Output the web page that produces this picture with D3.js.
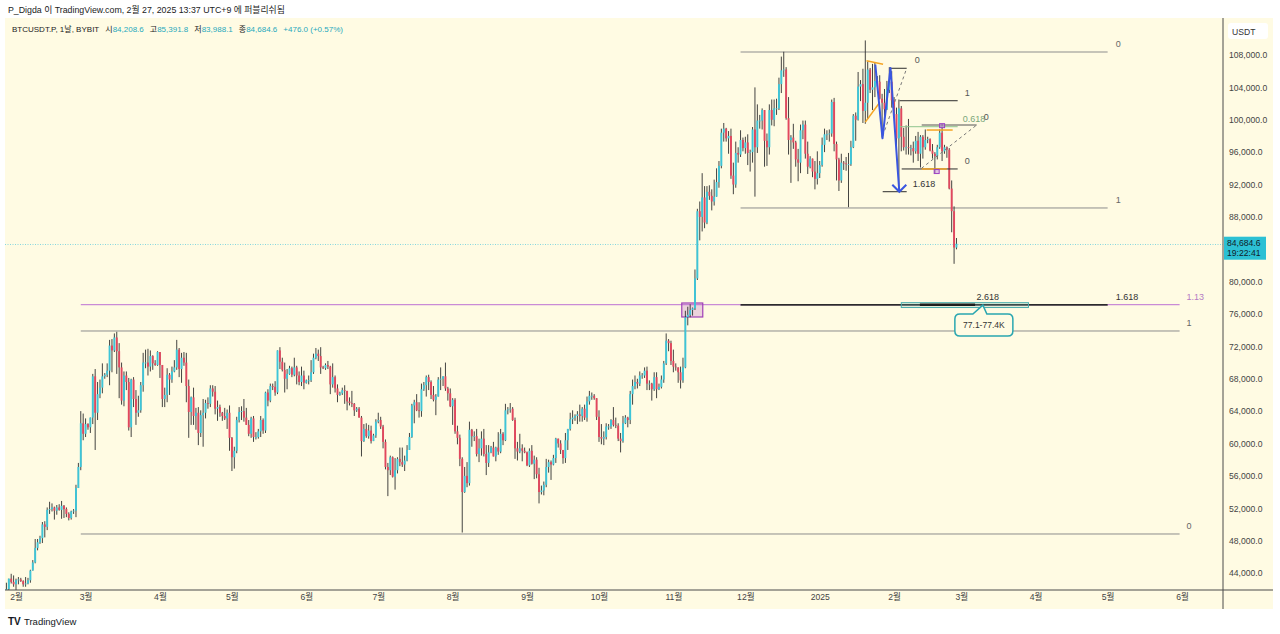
<!DOCTYPE html>
<html><head><meta charset="utf-8">
<script src="https://cdn.jsdelivr.net/npm/d3@7/dist/d3.min.js"></script>
<style>
html,body{margin:0;padding:0;background:#fff;overflow:hidden}
svg{display:block}
text{font-family:"Liberation Sans",Arial,"Noto Sans CJK KR",sans-serif}
</style></head><body>
<svg id="chart" width="1280" height="634"></svg>
<script>
// ---------- DATA (prices in thousands USDT), daily candles from 2024-01-28 ----------
const startDate = "2024-01-28";
const opens = [
41.8,42.0,43.3,42.9,
42.6,43.1,43.2,43.0,42.6,42.7,43.1,44.3,45.3,47.1,47.8,48.3,50.0,49.7,51.8,51.9,52.1,51.7,52.1,51.8,52.3,51.9,51.3,50.8,51.6,51.7,54.5,57.1,62.5,
61.2,62.4,62.0,63.2,68.3,63.8,66.1,66.9,68.3,68.5,69.0,72.1,71.5,73.1,71.4,69.4,65.3,68.4,67.6,62.0,67.9,65.5,63.8,64.1,67.2,70.0,70.0,69.5,70.8,69.9,69.7,
71.3,69.7,65.5,66.0,68.5,67.9,68.9,69.4,71.6,69.2,70.6,70.0,67.1,63.9,65.7,63.4,63.8,61.3,63.5,63.8,65.0,64.9,66.8,66.4,64.3,64.5,63.8,63.4,63.1,63.8,
60.7,58.3,59.1,62.9,63.9,64.0,63.2,62.3,61.2,63.1,60.8,60.8,61.5,62.9,61.6,66.3,65.3,67.1,67.0,66.3,71.5,70.1,69.1,68.0,68.6,69.3,68.5,69.4,68.4,67.6,68.4,
67.5,67.8,67.8,68.8,70.6,71.1,70.8,69.4,69.3,69.7,69.5,67.3,68.2,66.8,66.0,66.2,66.6,66.5,65.2,65.0,64.9,64.1,64.3,63.2,60.3,61.8,60.9,61.6,60.3,61.0,
62.7,62.9,62.1,60.2,57.1,56.7,58.3,55.9,56.7,58.1,57.7,57.4,57.9,59.2,60.8,64.7,65.1,64.1,64.0,66.7,67.2,68.2,67.6,66.0,65.4,65.8,67.9,68.0,68.3,66.8,66.2,
64.6,65.4,61.5,60.7,58.1,54.0,56.0,55.1,61.7,60.9,60.9,58.7,59.4,60.6,58.7,57.6,58.9,59.5,58.4,59.5,59.0,61.2,60.4,64.1,64.2,64.3,62.9,59.4,59.0,59.4,59.1,
58.9,57.3,59.1,57.5,58.0,56.2,54.0,54.2,54.9,57.1,57.7,57.4,58.2,60.6,60.0,59.2,58.2,60.4,61.8,63.0,63.2,63.4,63.6,63.4,64.3,63.2,65.2,65.9,65.9,65.6,
63.3,60.8,60.6,60.8,62.1,62.1,62.9,62.3,62.2,60.6,60.3,62.5,63.2,62.9,66.1,67.1,67.6,67.4,68.4,68.4,69.0,67.4,67.4,66.7,68.2,66.7,67.0,67.9,69.9,72.7,72.4,
70.2,69.5,69.4,68.8,67.8,69.4,75.6,75.9,76.5,76.7,80.4,88.7,88.0,90.4,87.3,91.1,90.6,89.9,90.5,92.3,94.3,98.4,98.9,97.7,98.0,93.1,92.0,95.9,95.7,97.5,
96.5,97.2,95.9,96.0,98.8,96.6,99.9,99.9,101.2,97.4,96.6,101.2,100.0,101.4,101.4,104.4,106.1,106.2,100.2,97.5,97.8,97.2,95.1,94.7,98.7,99.4,95.8,94.2,95.2,93.6,92.7,
93.4,94.4,96.9,98.2,98.2,98.3,102.2,97.0,95.1,92.5,94.7,94.6,94.5,94.5,96.6,100.5,100.0,104.1,104.4,101.1,102.1,106.2,103.7,104.0,104.8,104.7,102.6,102.1,101.3,103.7,104.7,
102.4,100.7,97.7,101.4,97.9,96.6,96.6,96.5,96.5,96.1,97.4,95.8,97.9,96.6,97.5,97.6,96.2,95.8,95.5,96.6,98.4,96.1,96.6,96.3,91.5,88.7,84.2086
];
const highs = [
42.8,43.3,43.9,43.7,
43.3,43.5,43.4,43.1,43.5,43.4,44.4,45.6,48.2,48.2,48.6,50.3,50.4,52.1,52.8,52.6,52.2,52.4,52.5,52.9,52.4,52.1,51.5,51.7,51.9,54.9,57.6,64.0,63.7,
63.1,62.5,63.2,68.6,69.2,67.6,67.9,69.9,68.7,69.9,72.8,72.9,73.6,73.8,72.4,70.0,68.9,68.9,68.1,68.0,68.2,66.6,65.9,67.6,71.2,71.6,71.7,71.5,70.9,70.3,71.4,
71.3,69.7,66.9,69.3,68.7,69.5,70.3,72.8,71.8,71.2,71.3,71.2,67.9,65.8,66.9,64.4,64.5,64.1,65.5,65.4,65.7,67.2,67.2,67.1,65.3,64.8,63.9,64.4,64.2,64.7,
60.8,59.6,63.3,64.5,64.6,65.5,64.4,62.9,63.3,63.4,61.4,61.8,63.4,63.1,66.4,66.7,67.4,67.4,67.7,71.5,71.9,70.6,70.0,69.2,69.6,69.5,70.6,69.6,68.9,69.5,69.0,
67.9,68.4,70.3,71.1,71.8,71.6,71.9,69.6,69.9,70.2,69.6,69.9,68.4,67.3,66.4,66.9,67.2,66.5,65.7,66.5,65.0,64.5,64.5,63.4,62.4,62.5,62.3,62.2,61.2,63.0,
63.8,63.3,62.3,60.5,57.6,58.5,58.4,58.2,58.3,59.5,59.5,58.5,59.8,61.3,64.9,65.4,66.1,65.1,67.4,67.6,68.4,68.5,67.8,67.1,66.1,68.2,69.4,68.3,70.0,67.0,66.8,
65.6,65.6,62.2,61.1,58.3,57.1,57.7,62.7,61.8,61.5,61.8,60.6,61.5,61.8,59.8,59.8,59.7,60.2,59.6,61.4,61.8,61.4,64.9,64.5,65.0,64.5,63.2,60.2,61.2,59.9,59.5,
59.0,59.4,59.8,58.5,58.3,57.0,54.8,55.3,58.1,58.0,57.9,58.6,60.7,60.6,60.4,59.2,61.3,61.8,63.8,64.1,63.6,64.0,64.8,64.5,64.8,65.8,66.5,66.3,66.1,65.6,
64.1,62.4,61.5,62.5,62.4,63.0,64.5,63.2,62.5,61.3,63.4,63.5,63.3,66.5,67.9,68.4,68.0,68.9,68.7,69.4,69.5,67.8,67.5,68.8,68.8,67.4,68.4,70.2,73.6,72.9,72.7,
71.6,69.9,69.4,69.5,70.6,76.4,76.9,77.2,76.8,81.5,89.0,89.9,93.4,91.8,91.8,91.9,91.4,92.6,94.0,94.9,98.9,99.6,99.0,98.6,98.9,94.7,97.3,96.6,98.7,97.8,
97.9,98.2,96.3,99.1,104.0,101.9,100.6,101.4,101.2,98.3,101.9,102.5,102.5,102.6,105.2,107.8,108.4,106.5,102.8,98.1,99.5,97.4,96.4,99.4,99.9,99.9,97.3,95.5,95.2,94.9,96.1,
94.9,97.8,98.9,98.7,98.8,102.5,102.7,97.3,95.3,95.8,94.9,95.4,95.9,97.4,100.7,100.9,105.9,104.9,106.3,109.8,107.2,106.4,106.9,107.1,105.4,105.5,103.2,103.8,104.8,106.5,106.0,
102.8,101.5,102.5,101.7,99.0,99.3,100.1,96.9,97.3,98.0,98.5,98.1,98.1,98.8,97.9,97.7,97.0,96.0,96.9,98.8,99.5,96.9,96.7,96.5,92.5,89.3,85.3918
];
const lows = [
41.6,41.8,42.7,42.3,
41.9,42.6,42.9,42.3,42.3,42.6,42.8,44.3,45.2,46.8,47.6,47.7,48.4,49.3,51.3,51.6,50.6,51.2,51.7,50.7,50.8,50.9,50.5,50.6,51.3,50.9,54.5,56.7,60.4,
60.8,61.7,61.3,62.4,59.2,62.9,65.6,66.2,68.0,68.2,67.2,68.8,71.3,68.6,65.6,64.8,64.6,66.6,61.6,60.8,64.5,62.3,63.3,63.8,66.4,69.3,68.4,68.9,69.1,69.6,69.6,
68.1,64.5,64.5,65.1,66.0,67.5,68.8,69.1,68.2,67.5,69.6,65.1,60.7,62.3,62.3,61.7,59.8,60.8,59.6,63.1,64.3,64.5,65.8,63.6,62.8,63.3,62.8,62.9,61.8,59.1,
56.6,56.9,58.8,62.6,62.9,62.7,62.3,60.9,60.7,60.2,60.5,60.6,60.8,61.2,61.3,64.6,65.1,66.6,65.9,66.1,69.2,68.9,66.3,66.7,68.5,68.2,68.3,67.3,67.2,67.1,66.7,
67.4,67.3,67.6,68.6,70.4,70.2,68.6,69.2,69.1,69.2,66.1,66.9,66.3,65.1,65.9,66.0,64.9,64.1,64.7,64.5,63.4,63.9,63.2,58.4,60.2,60.7,60.6,60.0,60.3,60.7,
62.5,61.8,59.4,56.8,53.5,56.1,55.8,54.3,56.3,57.2,57.1,56.6,57.8,59.2,60.7,62.5,64.0,63.2,63.3,66.5,65.8,66.6,65.5,65.2,63.5,65.8,66.6,67.1,66.5,65.3,64.5,
62.3,61.2,59.9,57.2,49.0,53.9,54.6,54.8,59.6,60.3,58.4,57.7,58.5,58.4,56.1,57.1,58.8,58.4,57.8,58.6,58.8,59.8,60.3,63.6,63.8,62.8,58.1,57.9,58.8,57.8,58.8,
57.2,57.1,57.4,55.6,55.7,52.6,53.7,53.6,54.6,56.4,55.5,57.3,57.6,59.5,58.7,57.5,57.6,59.2,61.6,62.4,62.8,62.4,62.7,62.7,62.9,62.7,64.8,65.4,65.4,62.9,
60.2,59.9,59.8,60.5,61.7,61.8,62.1,61.9,60.3,58.9,60.1,62.4,62.0,62.4,64.8,66.7,66.8,67.1,68.0,68.1,66.6,66.6,65.3,66.5,65.6,66.6,66.8,67.5,69.7,71.4,69.7,
68.8,69.0,67.5,66.8,67.5,69.3,74.6,75.6,75.8,76.5,80.2,85.1,86.2,86.6,87.1,90.1,88.8,89.4,90.5,91.6,94.0,97.3,97.3,95.8,92.7,90.8,91.6,94.7,95.4,96.1,
95.8,94.4,93.6,94.7,90.5,95.9,98.9,98.8,94.2,94.3,95.7,99.3,99.2,100.6,101.2,103.3,105.3,100.0,95.7,92.2,96.4,94.2,92.4,93.4,97.6,95.2,93.3,94.0,92.9,91.4,92.0,
92.8,94.2,96.0,97.5,97.3,97.9,96.1,92.5,91.2,92.2,93.8,93.7,89.2,94.3,96.5,97.4,99.9,102.3,99.6,99.5,100.1,103.3,101.2,102.8,104.1,102.5,97.8,100.3,101.2,103.3,101.5,
100.3,96.2,91.2,96.1,96.2,95.7,95.7,95.6,94.7,95.8,94.9,94.1,95.2,96.3,97.1,96.1,95.2,93.4,95.1,96.4,94.9,95.8,95.3,91.4,86.1,82.2,83.9881
];
const closes = [
42.0,43.3,42.9,42.6,
43.1,43.2,43.0,42.6,42.7,43.1,44.3,45.3,47.1,47.8,48.3,50.0,49.7,51.8,51.9,52.1,51.7,52.1,51.8,52.3,51.9,51.3,50.8,51.6,51.7,54.5,57.1,62.5,61.2,
62.4,62.0,63.2,68.3,63.8,66.1,66.9,68.3,68.5,69.0,72.1,71.5,73.1,71.4,69.4,65.3,68.4,67.6,62.0,67.9,65.5,63.8,64.1,67.2,70.0,70.0,69.5,70.8,69.9,69.7,71.3,
69.7,65.5,66.0,68.5,67.9,68.9,69.4,71.6,69.2,70.6,70.0,67.1,63.9,65.7,63.4,63.8,61.3,63.5,63.8,65.0,64.9,66.8,66.4,64.3,64.5,63.8,63.4,63.1,63.8,60.7,
58.3,59.1,62.9,63.9,64.0,63.2,62.3,61.2,63.1,60.8,60.8,61.5,62.9,61.6,66.3,65.3,67.1,67.0,66.3,71.5,70.1,69.1,68.0,68.6,69.3,68.5,69.4,68.4,67.6,68.4,67.5,
67.8,67.8,68.8,70.6,71.1,70.8,69.4,69.3,69.7,69.5,67.3,68.2,66.8,66.0,66.2,66.6,66.5,65.2,65.0,64.9,64.1,64.3,63.2,60.3,61.8,60.9,61.6,60.3,61.0,62.7,
62.9,62.1,60.2,57.1,56.7,58.3,55.9,56.7,58.1,57.7,57.4,57.9,59.2,60.8,64.7,65.1,64.1,64.0,66.7,67.2,68.2,67.6,66.0,65.4,65.8,67.9,68.0,68.3,66.8,66.2,64.6,
65.4,61.5,60.7,58.1,54.0,56.0,55.1,61.7,60.9,60.9,58.7,59.4,60.6,58.7,57.6,58.9,59.5,58.4,59.5,59.0,61.2,60.4,64.1,64.2,64.3,62.9,59.4,59.0,59.4,59.1,58.9,
57.3,59.1,57.5,58.0,56.2,54.0,54.2,54.9,57.1,57.7,57.4,58.2,60.6,60.0,59.2,58.2,60.4,61.8,63.0,63.2,63.4,63.6,63.4,64.3,63.2,65.2,65.9,65.9,65.6,63.3,
60.8,60.6,60.8,62.1,62.1,62.9,62.3,62.2,60.6,60.3,62.5,63.2,62.9,66.1,67.1,67.6,67.4,68.4,68.4,69.0,67.4,67.4,66.7,68.2,66.7,67.0,67.9,69.9,72.7,72.4,70.2,
69.5,69.4,68.8,67.8,69.4,75.6,75.9,76.5,76.7,80.4,88.7,88.0,90.4,87.3,91.1,90.6,89.9,90.5,92.3,94.3,98.4,98.9,97.7,98.0,93.1,92.0,95.9,95.7,97.5,96.5,
97.2,95.9,96.0,98.8,96.6,99.9,99.9,101.2,97.4,96.6,101.2,100.0,101.4,101.4,104.4,106.1,106.2,100.2,97.5,97.8,97.2,95.1,94.7,98.7,99.4,95.8,94.2,95.2,93.6,92.7,93.4,
94.4,96.9,98.2,98.2,98.3,102.2,97.0,95.1,92.5,94.7,94.6,94.5,94.5,96.6,100.5,100.0,104.1,104.4,101.1,102.1,106.2,103.7,104.0,104.8,104.7,102.6,102.1,101.3,103.7,104.7,102.4,
100.7,97.7,101.4,97.9,96.6,96.6,96.5,96.5,96.1,97.4,95.8,97.9,96.6,97.5,97.6,96.2,95.8,95.5,96.6,98.4,96.1,96.6,96.3,91.5,88.7,84.2086,84.6846
];
const lastPrice = 84.6846;
const priceTicks = [44,48,52,56,60,64,68,72,76,80,88,92,96,100,104,108];
const monthTicks = ["2024-02-01","2024-03-01","2024-04-01","2024-05-01","2024-06-01","2024-07-01","2024-08-01","2024-09-01","2024-10-01","2024-11-01","2024-12-01","2025-01-01","2025-02-01","2025-03-01","2025-04-01","2025-05-01","2025-06-01"];
const monthLabels = ["2월","3월","4월","5월","6월","7월","8월","9월","10월","11월","12월","2025","2월","3월","4월","5월","6월"];

// Fibonacci levels: start, end, price, label
const levelStarts = ["2024-11-29","2024-11-29","2024-11-29","2024-02-28","2024-02-28","2024-02-28"];
const levelEnds   = ["2025-05-01","2025-05-01","2025-05-01","2025-05-31","2025-05-31","2025-05-31"];
const levelPrices = [108.37, 89.10, 77.15, 77.15, 73.90, 48.82];
const levelLabels = ["0","1","1.618","1.13","1","0"];

// upper fib structures (Jan-Feb 2025)
const smallStarts = ["2025-01-30T05:00:00Z","2025-01-27T06:00:00Z","2025-02-03T07:00:00Z","2025-02-03T07:00:00Z","2025-02-04T04:00:00Z","2025-02-12T12:00:00Z"];
const smallEnds   = ["2025-02-06T06:00:00Z","2025-02-06T06:00:00Z","2025-02-27T12:00:00Z","2025-02-27T12:00:00Z","2025-02-27T12:00:00Z","2025-03-07T10:00:00Z"];
const smallPrices = [106.36, 91.11, 102.35, 99.14, 93.92, 99.35];
const smallLabels = ["0","1.618","1","0.618","0","0"];

const zigzagDates  = ["2025-01-24T04:00:00Z","2025-01-27T04:00:00Z","2025-01-30T12:00:00Z","2025-02-03T04:00:00Z"];
const zigzagPrices = [106.8, 97.7, 106.4, 91.1];

const trendStarts = ["2025-01-20T12:00:00Z","2025-01-20T00:00:00Z","2025-02-14T14:00:00Z","2025-02-12T12:00:00Z"];
const trendEnds   = ["2025-01-27T10:00:00Z","2025-01-25T16:00:00Z","2025-02-25T10:00:00Z","2025-02-23T00:00:00Z"];
const trendP1     = [107.3, 99.7, 98.73, 93.92];
const trendP2     = [106.85, 102.0, 98.73, 93.92];

const dashStarts = ["2025-01-27T06:00:00Z","2025-02-12T10:00:00Z"];
const dashEnds   = ["2025-02-06T06:00:00Z","2025-03-07T10:00:00Z"];
const dashP1     = [98.0, 94.0];
const dashP2     = [106.36, 99.35];

const markerDates  = ["2025-02-21T00:00:00Z","2025-02-18T18:00:00Z"];
const markerPrices = [99.27, 93.6];

const boxStart = "2024-11-04T12:00:00Z", boxEnd = "2024-11-13T06:00:00Z", boxHi = 77.36, boxLo = 75.63;
const zoneStart = "2025-02-04", zoneEnd = "2025-03-29", zoneHi = 77.40, zoneLo = 76.80;
const zoneCoreStart = "2025-02-11T18:00:00Z", zoneCoreEnd = "2025-03-06T18:00:00Z", zonePrice = 77.15;
const zoneLabelDate = "2025-03-12", zoneLabel = "2.618";
const calloutDate = "2025-03-10", calloutPrice = 77.1, calloutText = "77.1-77.4K";

// ---------- DRAWING ----------
const svg = d3.select("#chart");
const C = {bg:"#fffbe3", up:"#3dc5d8", down:"#e2475e", wick:"#2f2f2f", dark:"#2b2b2b",
  pink:"#c98bd6", teal:"#2aa6b0", orange:"#f5a524", blue:"#3a56e0", axis:"#4a4a4a"};
const P = {l:5, r:1223, t:18, b:590, axisR:1273, bottom:609};
const D = s => new Date(s);

const x = d3.scaleUtc().domain([D("2024-02-01"), D("2025-06-01")]).range([16, 1182]);
const y = d3.scaleLinear().domain([44, 108]).range([573, 55]);

svg.append("rect").attr("x",P.l).attr("y",P.t).attr("width",P.axisR-P.l).attr("height",P.bottom-P.t).attr("fill",C.bg);

svg.append("defs").append("clipPath").attr("id","clip").append("rect")
  .attr("x",P.l).attr("y",P.t).attr("width",P.r-P.l).attr("height",P.b-P.t);
const plot = svg.append("g").attr("clip-path","url(#clip)");

// current price dotted line
plot.append("line").attr("x1",P.l).attr("x2",P.r).attr("y1",Math.round(y(lastPrice))+0.5).attr("y2",Math.round(y(lastPrice))+0.5)
  .attr("stroke","#86d6df").attr("stroke-width",1).attr("stroke-dasharray","1,1.5");

// big fib levels
const lvlColor = ["#8d8d8d","#8d8d8d",C.dark,C.pink,"#8d8d8d","#8d8d8d"];
const lvlWidth = [1,1,1.4,1.2,1,1];
const lvlText  = ["#666","#666","#333","#b57cc4","#666","#666"];
levelPrices.forEach((p,i)=>{
  plot.append("line").attr("x1",x(D(levelStarts[i]))).attr("x2",x(D(levelEnds[i])))
    .attr("y1",y(p)).attr("y2",y(p)).attr("stroke",lvlColor[i]).attr("stroke-width",lvlWidth[i]);
});
plot.append("line").attr("x1",x(D(levelStarts[2]))).attr("x2",x(D(levelEnds[2])))
  .attr("y1",y(levelPrices[2])).attr("y2",y(levelPrices[2])).attr("stroke",C.dark).attr("stroke-width",1.4);

// pink box
plot.append("rect").attr("x",x(D(boxStart))).attr("y",y(boxHi))
  .attr("width",x(D(boxEnd))-x(D(boxStart))).attr("height",y(boxLo)-y(boxHi))
  .attr("fill","rgba(186,104,200,0.28)").attr("stroke","#a040b8").attr("stroke-width",1.2);

// candles
const DAY = 86400000, t0 = Date.parse(startDate);
const candles = closes.map((c,i)=>({t:new Date(t0+i*DAY), o:opens[i], h:highs[i], l:lows[i], c}));
const bw = 1.9;
plot.append("g").selectAll("line").data(candles).join("line")
  .attr("x1",d=>x(d.t)).attr("x2",d=>x(d.t)).attr("y1",d=>y(d.h)).attr("y2",d=>y(d.l))
  .attr("stroke",C.wick).attr("stroke-width",0.9);
plot.append("g").selectAll("rect").data(candles).join("rect")
  .attr("x",d=>x(d.t)-bw/2).attr("width",bw)
  .attr("y",d=>y(Math.max(d.o,d.c))).attr("height",d=>Math.max(0.8,Math.abs(y(d.o)-y(d.c))))
  .attr("fill",d=>d.c>=d.o?C.up:C.down);

// teal zone
plot.append("rect").attr("x",x(D(zoneStart))).attr("y",y(zoneHi))
  .attr("width",x(D(zoneEnd))-x(D(zoneStart))).attr("height",y(zoneLo)-y(zoneHi))
  .attr("fill","rgba(120,190,180,0.22)").attr("stroke","#4aaeae").attr("stroke-width",1);
plot.append("line").attr("x1",x(D(zoneCoreStart))).attr("x2",x(D(zoneCoreEnd)))
  .attr("y1",y(zonePrice)).attr("y2",y(zonePrice)).attr("stroke","#1e1e1e").attr("stroke-width",2.6);

// small fib lines
const smColor = [C.dark,C.dark,C.dark,"#8fc48f",C.dark,"#555"];
smallPrices.forEach((p,i)=>{
  plot.append("line").attr("x1",x(D(smallStarts[i]))).attr("x2",x(D(smallEnds[i])))
    .attr("y1",y(p)).attr("y2",y(p)).attr("stroke",smColor[i]).attr("stroke-width",1);
});
dashP1.forEach((p,i)=>{
  plot.append("line").attr("x1",x(D(dashStarts[i]))).attr("x2",x(D(dashEnds[i])))
    .attr("y1",y(p)).attr("y2",y(dashP2[i])).attr("stroke","#777").attr("stroke-width",1).attr("stroke-dasharray","3,3");
});
trendP1.forEach((p,i)=>{
  plot.append("line").attr("x1",x(D(trendStarts[i]))).attr("x2",x(D(trendEnds[i])))
    .attr("y1",y(p)).attr("y2",y(trendP2[i])).attr("stroke",C.orange).attr("stroke-width",1.5);
});
const zz = zigzagDates.map((d,i)=>[x(D(d)), y(zigzagPrices[i])]);
plot.append("path").attr("d",d3.line()(zz)).attr("fill","none").attr("stroke",C.blue).attr("stroke-width",2).attr("stroke-linejoin","round");
const tip = zz[zz.length-1];
plot.append("path").attr("d",`M${tip[0]-7},${tip[1]-7}L${tip[0]},${tip[1]}L${tip[0]+7},${tip[1]-7}`)
  .attr("fill","none").attr("stroke",C.blue).attr("stroke-width",2);
markerDates.forEach((d,i)=>{
  plot.append("rect").attr("x",x(D(d))-2.5).attr("y",y(markerPrices[i])-2).attr("width",5).attr("height",4)
    .attr("fill","rgba(200,140,230,0.5)").attr("stroke","#9c3fc4").attr("stroke-width",1);
});

// labels
const lab = svg.append("g").attr("font-size",9);
levelPrices.forEach((p,i)=>{
  lab.append("text").attr("x",x(D(levelEnds[i]))+(i>=3?7:8)).attr("y",y(p)-5)
    .attr("fill",lvlText[i]).text(levelLabels[i]);
});
const smText = ["#555","#333","#555","#7aa77a","#555","#555"];
const smDx = [8,6,7,5,7,7];
smallPrices.forEach((p,i)=>{
  lab.append("text").attr("x",x(D(smallEnds[i]))+smDx[i]).attr("y",y(p)-5)
    .attr("fill",smText[i]).text(smallLabels[i]);
});
lab.append("text").attr("x",x(D(zoneLabelDate))).attr("y",y(zonePrice)-5).attr("text-anchor","middle")
  .attr("fill","#333").text(zoneLabel);

// callout
const cx = x(D(calloutDate)), cy = y(calloutPrice);
const bx0 = cx-28, bx1 = cx+30, by0 = cy+9, by1 = cy+31, r = 5;
const cp = `M${bx0+r},${by0} L${cx-10},${by0} L${cx},${cy} L${cx+4},${by0} L${bx1-r},${by0} Q${bx1},${by0} ${bx1},${by0+r} L${bx1},${by1-r} Q${bx1},${by1} ${bx1-r},${by1} L${bx0+r},${by1} Q${bx0},${by1} ${bx0},${by1-r} L${bx0},${by0+r} Q${bx0},${by0} ${bx0+r},${by0} Z`;
svg.append("path").attr("d",cp).attr("fill",C.bg).attr("stroke",C.teal).attr("stroke-width",1.5);
svg.append("text").attr("x",(bx0+bx1)/2).attr("y",(by0+by1)/2+3).attr("text-anchor","middle")
  .attr("font-size",8.5).attr("fill","#333").text(calloutText);

// axes frame
svg.append("line").attr("x1",P.r).attr("x2",P.r).attr("y1",P.t).attr("y2",P.bottom).attr("stroke",C.axis);
svg.append("line").attr("x1",P.l).attr("x2",P.axisR).attr("y1",P.b).attr("y2",P.b).attr("stroke",C.axis);

// price axis
const ya = svg.append("g").attr("transform",`translate(${P.r+6},0)`)
  .call(d3.axisRight(y).tickValues(priceTicks).tickSize(0).tickPadding(0).tickFormat(d=>d3.format(",.1f")(d*1000)));
ya.select(".domain").remove();
ya.selectAll("text").attr("font-size",8.6).attr("fill","#444").attr("font-family",'"Liberation Sans",Arial,sans-serif');

// time axis
const xa = svg.append("g").attr("transform",`translate(0,${P.b})`)
  .call(d3.axisBottom(x).tickValues(monthTicks.map(D)).tickSize(0).tickPadding(4).tickFormat((d,i)=>monthLabels[i]));
xa.select(".domain").remove();
xa.selectAll("text").attr("font-size",8.6).attr("fill","#444").attr("font-family",'"Liberation Sans","Noto Sans CJK KR",sans-serif');

// USDT box
svg.append("rect").attr("x",1228).attr("y",23).attr("width",40).attr("height",16).attr("rx",3).attr("fill","#fff");
svg.append("text").attr("x",1232).attr("y",34.5).attr("font-size",8.6).attr("fill","#333").text("USDT");

// last price label
const ly = y(lastPrice);
svg.append("rect").attr("x",P.r+1).attr("y",ly-7).attr("width",42).attr("height",23).attr("fill","#2cc0d4");
svg.append("text").attr("x",P.r+4).attr("y",ly+2).attr("font-size",8.6).attr("fill","#10202a").text(d3.format(",.1f")(lastPrice*1000));
svg.append("text").attr("x",P.r+4).attr("y",ly+12.5).attr("font-size",8.6).attr("fill","#10202a").text("19:22:41");

// header
svg.append("text").attr("x",8).attr("y",12.5).attr("font-size",8.8).attr("fill","#222")
  .text("P_Digda 이 TradingView.com, 2월 27, 2025 13:37 UTC+9 에 퍼블리쉬됨");
const hdr = svg.append("text").attr("x",12).attr("y",32).attr("font-size",8).attr("fill","#222");
hdr.append("tspan").text("BTCUSDT.P, 1날, BYBIT");
const vcol = "#1fa9bd";
const parts = [["시","84,208.6"],["고","85,391.8"],["저","83,988.1"],["종","84,684.6"]];
parts.forEach(([k,v])=>{
  hdr.append("tspan").attr("dx",6).attr("fill","#222").text(k);
  hdr.append("tspan").attr("fill",vcol).text(v);
});
hdr.append("tspan").attr("dx",6).attr("fill",vcol).text("+476.0 (+0.57%)");

// footer logo
svg.append("text").attr("x",8).attr("y",625).attr("font-size",10).attr("font-weight","bold").attr("fill","#131722").text("TV");
svg.append("text").attr("x",24).attr("y",625).attr("font-size",9.5).attr("fill","#131722").text("TradingView");
</script>
</body></html>
